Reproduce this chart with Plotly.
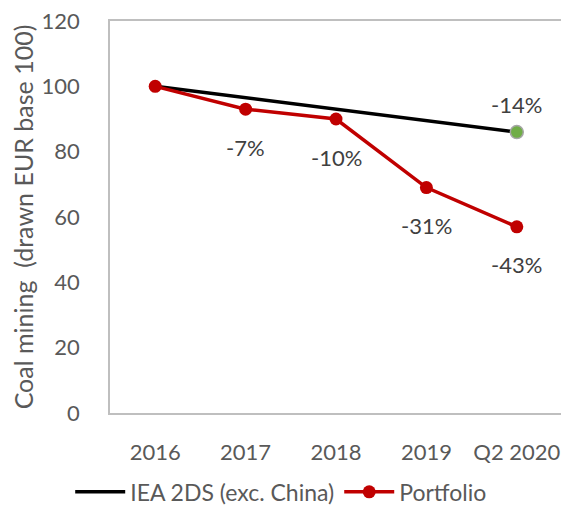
import plotly.graph_objects as go

# ---- data ----
categories = ["2016", "2017", "2018", "2019", "Q2 2020"]
portfolio = [100, 93, 90, 69, 57]
portfolio_labels = ["", "-7%", "-10%", "-31%", "-43%"]

iea_categories = ["2016", "Q2 2020"]
iea_2ds = [100, 86]
iea_end_label = "-14%"

y_ticks = [0, 20, 40, 60, 80, 100, 120]

FONT = "Lato, 'Open Sans', sans-serif"
AXIS_GRAY = "#BFBFBF"
TEXT_GRAY = "#595959"
LABEL_GRAY = "#404040"
RED = "#C00000"

fig = go.Figure()

fig.add_trace(go.Scatter(
    name="IEA 2DS (exc. China)",
    x=iea_categories,
    y=iea_2ds,
    mode="lines",
    line=dict(color="black", width=3.5),
))

fig.add_trace(go.Scatter(
    name="Portfolio",
    x=categories,
    y=portfolio,
    mode="lines+markers",
    line=dict(color=RED, width=3.5),
    marker=dict(color=RED, size=13),
))

# green end-point marker for the IEA path
fig.add_trace(go.Scatter(
    x=iea_categories[-1:],
    y=iea_2ds[-1:],
    mode="markers",
    marker=dict(color="#70AD47", size=13, line=dict(color="#A6A6A6", width=1.5)),
    showlegend=False,
))

# data labels (x given as category index so "2017" is not read as a number)
for i, (val, lab) in enumerate(zip(portfolio, portfolio_labels)):
    if lab:
        fig.add_annotation(x=i, y=val, text=lab, showarrow=False,
                           yshift=-38, font=dict(size=22, color=LABEL_GRAY))
fig.add_annotation(x=categories.index(iea_categories[-1]), y=iea_2ds[-1],
                   text=iea_end_label, showarrow=False, yshift=28,
                   font=dict(size=22, color=LABEL_GRAY))

# page body has an 8px margin, so the figure is sized/shifted to compensate
fig.update_layout(
    width=561,
    height=503,
    paper_bgcolor="white",
    plot_bgcolor="white",
    font=dict(family=FONT, color=TEXT_GRAY, size=22),
    margin=dict(l=102, r=7, t=13, b=98),
    xaxis=dict(
        type="category",
        categoryorder="array",
        categoryarray=categories,
        range=[-0.5, 4.5],
        showline=True,
        linecolor=AXIS_GRAY,
        linewidth=1.5,
        mirror=True,
        showgrid=False,
        zeroline=False,
        automargin=False,
        ticklabelstandoff=19,
        tickfont=dict(size=22, color=TEXT_GRAY),
    ),
    yaxis=dict(
        range=[0, 120],
        tickmode="array",
        tickvals=y_ticks,
        ticklabeloverflow="allow",
        showline=True,
        linecolor=AXIS_GRAY,
        linewidth=1.5,
        mirror=True,
        showgrid=False,
        zeroline=False,
        automargin=False,
        ticklabelstandoff=24,
        tickfont=dict(size=22, color=TEXT_GRAY),
        title=dict(text="Coal mining  (drawn EUR base 100)",
                   font=dict(size=25, color=TEXT_GRAY), standoff=6),
    ),
    legend=dict(
        orientation="h",
        xref="container",
        yref="container",
        x=0.487,
        xanchor="center",
        y=0.038,
        yanchor="middle",
        font=dict(size=23, color=TEXT_GRAY),
        itemwidth=50,
    ),
)

fig.write_html("out.html")
